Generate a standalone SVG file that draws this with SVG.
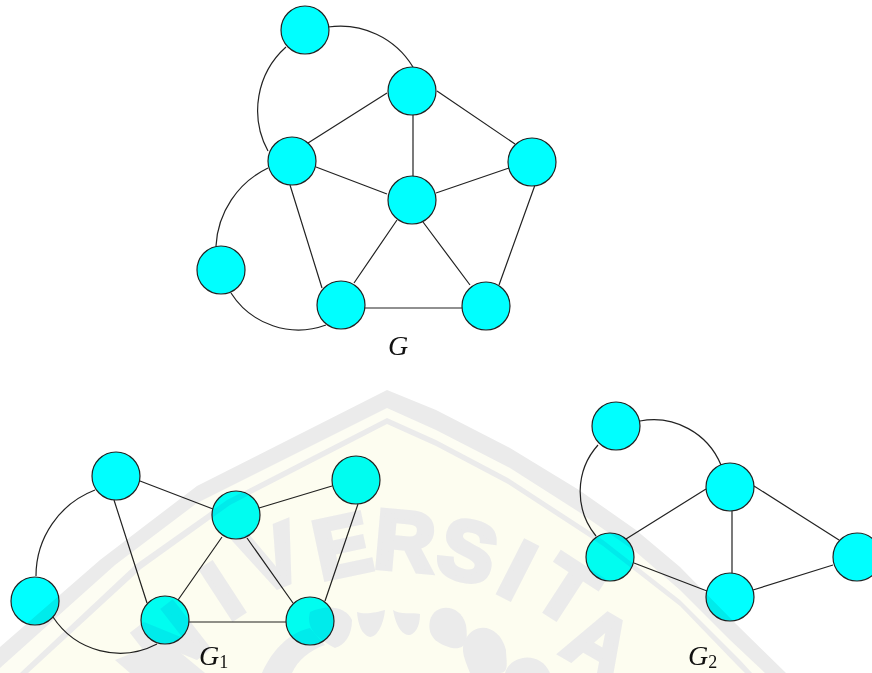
<svg xmlns="http://www.w3.org/2000/svg" width="872" height="673" viewBox="0 0 872 673">
<style>
.e{stroke:#222;stroke-width:1.2;fill:none}
.n{fill:#00ffff;stroke:#222;stroke-width:1.2}
.l{font-family:"Liberation Serif",serif;font-style:italic;font-size:28px;fill:#111}
.s{font-style:normal;font-size:18px}
.w{font-family:"Liberation Sans",sans-serif;font-weight:bold;font-size:84px;fill:#ebebeb;stroke:#ebebeb;stroke-width:5;text-anchor:middle}
.b{fill:#ebebeb}
</style>
<rect width="872" height="673" fill="#fff"/>
<g id="connectors">
<path class="e" d="M286 47A85 85 0 0 0 268 151"/>
<path class="e" d="M328 27A85 85 0 0 1 413 67"/>
<path class="e" d="M268 168A92 92 0 0 0 216 246"/>
<path class="e" d="M231 293A80 80 0 0 0 326 325"/>
<path class="e" d="M387 93L308 143M437 91L515 144M413 115L413 177M316 167L387 194M509 168L436 193M290 185L322 288M397 220L354 283M423 222L470 285M535 185L499 285M364 308L462 308"/>
<path class="e" d="M95 490A92 92 0 0 0 36 576"/>
<path class="e" d="M53 617A80 80 0 0 0 157 644"/>
<path class="e" d="M140 481L213 509M259 508L332 486M114 500L147 603M222 537L178 600M247 538L293 603M358 504L325 601M189 622L286 622"/>
<path class="e" d="M598 445A70 70 0 0 0 596 536"/>
<path class="e" d="M640 421A73 73 0 0 1 721 465"/>
<path class="e" d="M706 489L626 539M754 486L839 540M732 511L732 573M634 563L707 591M753 590L833 565"/>
</g>
<g id="g-a"><circle class="n" cx="305" cy="30" r="24"/></g>
<g id="g-b"><circle class="n" cx="412" cy="91" r="24"/></g>
<g id="g-c"><circle class="n" cx="292" cy="161" r="24"/></g>
<g id="g-d"><circle class="n" cx="532" cy="162" r="24"/></g>
<g id="g-e"><circle class="n" cx="412" cy="200" r="24"/></g>
<g id="g-f"><circle class="n" cx="221" cy="270" r="24"/></g>
<g id="g-g"><circle class="n" cx="341" cy="305" r="24"/></g>
<g id="g-h"><circle class="n" cx="486" cy="306" r="24"/></g>
<g id="g1-a"><circle class="n" cx="116" cy="476" r="24"/></g>
<g id="g1-b"><circle class="n" cx="236" cy="515" r="24"/></g>
<g id="g1-c"><circle class="n" cx="356" cy="480" r="24"/></g>
<g id="g1-d"><circle class="n" cx="35" cy="601" r="24"/></g>
<g id="g1-e"><circle class="n" cx="165" cy="620" r="24"/></g>
<g id="g1-f"><circle class="n" cx="310" cy="621" r="24"/></g>
<g id="g2-a"><circle class="n" cx="616" cy="426" r="24"/></g>
<g id="g2-b"><circle class="n" cx="730" cy="487" r="24"/></g>
<g id="g2-c"><circle class="n" cx="610" cy="557" r="24"/></g>
<g id="g2-d"><circle class="n" cx="857" cy="557" r="24"/></g>
<g id="g2-e"><circle class="n" cx="730" cy="597" r="24"/></g>
<text class="l" x="388" y="355">G</text>
<text class="l" x="199" y="665">G<tspan class="s" dy="3">1</tspan></text>
<text class="l" x="688" y="665">G<tspan class="s" dy="3">2</tspan></text>
<g id="watermark" style="mix-blend-mode:multiply">
<path fill="#ebebeb" d="M387 390L436 410L510 448L579 490L636 530L680 567L735 623L786 673L0 673L0 647L100 560L197 486Z"/>
<path fill="#fdfdf3" d="M387 408L436 430L510 468L579 512L636 552L680 590L730 640L765 673L0 673L0 668L115 565L197 503Z"/>
<path fill="#ebebeb" d="M387 418L436 440L508 478L603 540L680 600L740 660L752 673L20 673L135 565L227 500Z"/>
<path fill="#fdfdf0" d="M387 424L436 446L508 484L603 546L680 606L736 664L745 673L28 673L141 569L230 505Z"/>
<text class="w" y="30" transform="translate(170 640) rotate(-38)">N</text>
<text class="w" y="30" transform="translate(222 590) rotate(-33)">I</text>
<text class="w" y="30" transform="translate(272 557) rotate(-22)">V</text>
<text class="w" y="30" transform="translate(342 545) rotate(-12)">E</text>
<text class="w" y="30" transform="translate(405 540) rotate(5)">R</text>
<text class="w" y="30" transform="translate(468 550) rotate(15)">S</text>
<text class="w" y="30" transform="translate(518 569) rotate(27)">I</text>
<text class="w" y="30" transform="translate(567 590) rotate(33)">T</text>
<text class="w" y="30" transform="translate(600 642) rotate(30)">A</text>
<path class="b" d="M393 610C400 615 412 612 420 614C420 630 412 638 405 634C398 630 395 620 393 610Z"/>
<path class="b" d="M430 620C435 603 460 603 466 625C468 640 467 650 452 648C442 645 426 640 430 620Z"/>
<path class="b" d="M465 640C475 620 500 625 506 650C506 660 510 673 500 673L470 673C465 660 460 650 465 640Z"/>
<path class="b" d="M505 673C510 655 540 650 550 673Z"/>
<path class="b" d="M310 612C325 605 345 605 352 620C352 635 345 645 335 648C320 640 305 630 310 612Z"/>
<path class="b" d="M357 612C365 615 378 612 385 610C384 622 378 637 370 637C362 635 358 625 357 612Z"/>
<path class="b" d="M262 673C272 650 290 632 310 628L325 645C310 650 298 660 292 673Z"/>
<path class="b" d="M115 660L165 640L205 673L130 673Z"/>
</g>
</svg>
